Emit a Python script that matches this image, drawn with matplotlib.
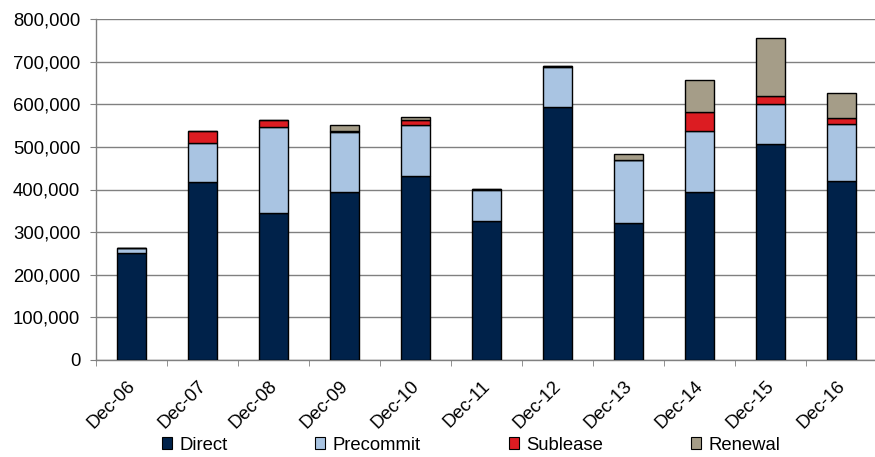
import matplotlib
matplotlib.use("Agg")
import matplotlib.pyplot as plt
import matplotlib.transforms as mtransforms
from matplotlib.patches import Patch
import numpy as np

categories = ["Dec-06", "Dec-07", "Dec-08", "Dec-09", "Dec-10", "Dec-11",
              "Dec-12", "Dec-13", "Dec-14", "Dec-15", "Dec-16"]
direct    = [250000, 417000, 344000, 394000, 431000, 326000, 593000, 321000, 394000, 506000, 420000]
precommit = [12000,  91000, 202000, 140000, 121000,  72000,  94000, 148000, 143000,  94000, 134000]
sublease  = [0,      29000,  17000,   3000,  10000,   4000,   2000,      0,  45000,  19000,  14000]
renewal   = [0,          0,      0,  14000,   9000,      0,      0,  14000,  75000, 136000,  59000]
series_names = ["Direct", "Precommit", "Sublease", "Renewal"]
colors = ["#00224A", "#A9C4E2", "#DC1C22", "#A59D88"]
yticks = [0, 100000, 200000, 300000, 400000, 500000, 600000, 700000, 800000]

plt.rcParams['font.family'] = ['Liberation Sans', 'DejaVu Sans']
FS = 13.3

fig = plt.figure(figsize=(8.75, 4.57), dpi=100)
ax = fig.add_axes([96/875, 97/457, 781/875, 341/457])

x = np.arange(len(categories))
bottom = np.zeros(len(categories))
handles = []
for name, vals, c in zip(series_names, [direct, precommit, sublease, renewal], colors):
    vals = np.array(vals, dtype=float)
    ax.bar(x, vals, width=0.41, bottom=bottom, color=c, edgecolor="black",
           linewidth=1.0, zorder=3)
    bottom += vals
    handles.append(Patch(facecolor=c, edgecolor="black", linewidth=0.8, label=name))

ax.set_xlim(-0.5, len(categories) - 0.5)
ax.set_ylim(0, 800000)
ax.set_yticks(yticks)
ax.set_yticklabels([f"{v:,}" for v in yticks], fontsize=FS)
ax.yaxis.grid(True, color="#808080", linewidth=1.0, zorder=0)
ax.set_axisbelow(True)

ax.set_xticks(x)
ax.set_xticklabels(categories, rotation=45, ha="right", va="center",
                   rotation_mode="anchor", fontsize=FS)
ax.set_xticks(np.arange(len(categories) + 1) - 0.5, minor=True)
ax.tick_params(axis="x", which="major", length=0, pad=17)
ax.tick_params(axis="x", which="minor", length=4.3, color="#808080")
ax.tick_params(axis="y", length=4.3, color="#808080", pad=7)
offset = mtransforms.ScaledTranslation(1/100, 0, fig.dpi_scale_trans)
for lab in ax.get_xticklabels():
    lab.set_transform(lab.get_transform() + offset)

for s in ["top", "right"]:
    ax.spines[s].set_visible(False)
for s in ["left", "bottom"]:
    ax.spines[s].set_color("#808080")
    ax.spines[s].set_linewidth(1.0)

fig.legend(handles=handles, loc="center", bbox_to_anchor=(471/875, 1 - 445/457),
           ncol=4, frameon=False, fontsize=FS, handlelength=0.55, handleheight=0.55,
           handletextpad=0.4, columnspacing=4.75, borderpad=0, borderaxespad=0)

fig.savefig("out.png", dpi=100)
